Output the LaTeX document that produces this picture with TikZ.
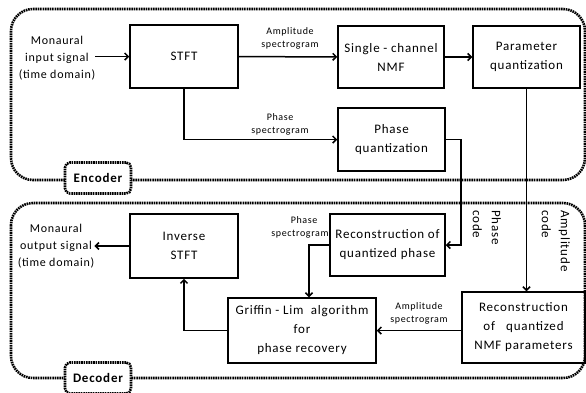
\documentclass[tikz,border=0pt]{standalone}
\usepackage{fontspec}
\setmainfont{Carlito}[LetterSpace=6]
\usetikzlibrary{arrows.meta,calc}
\begin{document}
\begin{tikzpicture}[x=1pt,y=-1pt,
  box/.style={draw,line width=1.5pt,align=center,inner sep=0pt,font={\fontsize{13}{19}\selectfont}},
  side/.style={align=center,inner sep=0pt,font={\fontsize{12}{17}\selectfont}},
  small/.style={align=center,inner sep=0pt,font={\fontsize{10}{13}\selectfont}},
  code/.style={align=left,inner sep=0pt,rotate=-90,anchor=north west,font={\fontsize{13}{19}\selectfont}},
  conn/.style={line width=1.5pt,-{Straight Barb[length=3.5pt,width=7pt]}},
  group/.style={line width=2.6pt,dash pattern=on 1.6pt off 0.8pt,rounded corners=22pt},
  tag/.style={draw,line width=2.6pt,dash pattern=on 1.6pt off 0.8pt,rounded corners=5pt,fill=white,inner sep=0pt,font={\fontsize{13}{15}\selectfont\bfseries}}
  ]
\useasboundingbox (0,0) rectangle (586,392);
% groups
\draw[group] (11,9) rectangle (585,180);
\draw[group] (11,203) rectangle (585,378);
\node[tag,minimum width=66,minimum height=31] (enc) at (98,178) {Encoder};
\node[tag,minimum width=66,minimum height=31] (dec) at (98,378) {Decoder};
% encoder nodes
\node[side] (inp) at (57,58) {Monaural\\input signal\\(time domain)};
\node[box,minimum width=108,minimum height=63] (stft) at (184,56.5) {STFT};
\node[box,minimum width=106,minimum height=62] (nmf) at (391,57) {Single - channel\\NMF};
\node[box,minimum width=107,minimum height=62] (pq) at (526.5,57) {Parameter\\quantization};
\node[box,minimum width=107,minimum height=63] (phq) at (391.5,139.5) {Phase\\quantization};
\node[small] (lamp1) at (290,38) {Amplitude\\spectrogram};
\node[small] (lph1) at (280,124) {Phase\\spectrogram};
% decoder nodes
\node[side] (outp) at (56,246) {Monaural\\output signal\\(time domain)};
\node[box,minimum width=108,minimum height=64] (istft) at (184,246) {Inverse\\STFT};
\node[box,minimum width=115,minimum height=62] (rph) at (387.5,245) {Reconstruction of\\quantized phase};
\node[box,minimum width=123,minimum height=71] (nmfr) at (523.5,327.5) {Reconstruction\\of \ \ quantized\\NMF parameters};
\node[box,minimum width=148,minimum height=65] (gl) at (302,330.5) {Griffin - Lim \ algorithm\\for\\phase recovery};
\node[small] (lph2) at (300,227) {\hspace*{8pt}Phase\\spectrogram};
\node[small] (lamp2) at (419,313) {Amplitude\\spectrogram};
\node[code] (pcode) at (501,210) {Phase\\code};
\node[code] (acode) at (570,210) {Amplitude\\code};
\coordinate (phx) at (461,200);
% connectors
\draw[conn] (inp.east |- stft.west) -- (stft.west);
\draw[conn] (stft) -- (nmf);
\draw[conn] (nmf) -- (pq);
\draw[conn] (stft.south) |- (phq.west);
\draw[conn] (phq.east) -| (phx) |- (rph.east);
\draw[conn] (pq.south) -- (pq.south |- nmfr.north);
\draw[conn] (nmfr.west |- gl.east) -- (gl.east);
\draw[conn] (rph.west) -| ([xshift=7pt]gl.north);
\draw[conn] (gl.west) -| (istft.south);
\draw[conn] (istft.west) -- (outp.east |- istft.west);
\end{tikzpicture}
\end{document}
